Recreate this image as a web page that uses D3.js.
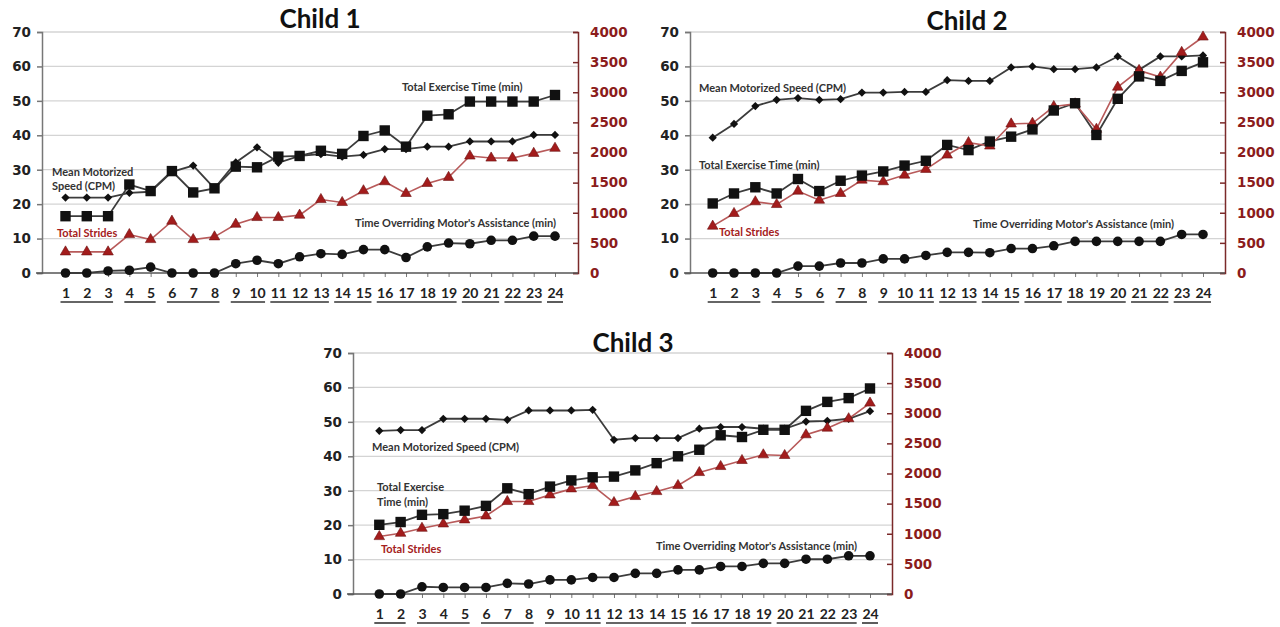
<!DOCTYPE html>
<html>
<head>
<meta charset="utf-8">
<script src="https://cdn.jsdelivr.net/npm/d3@7"></script>
<style>
  body { margin: 0; background: #fff; }
  svg { display: block; }
  .tick-l { font: bold 13.5px "DejaVu Sans", sans-serif; fill: #222; }
  .tick-r { font: bold 13.5px "DejaVu Sans", sans-serif; fill: #8b1c1c; }
  .xlab { font: bold 14px Lato, sans-serif; fill: #222; }
  .title { font: bold 26px Lato, sans-serif; fill: #111; }
  .note { font: bold 11px Lato, sans-serif; fill: #333; }
  .note-red { font: bold 11px Lato, sans-serif; fill: #a52020; }
</style>
</head>
<body>
<div id="chart"></div>
<script>
/* Three children: speed, exercise time, strides and override time per session */

const sessions = [1,2,3,4,5,6,7,8,9,10,11,12,13,14,15,16,17,18,19,20,21,22,23,24];
const leftTicks = [0,10,20,30,40,50,60,70];
const rightTicks = [0,500,1000,1500,2000,2500,3000,3500,4000];

// Child 1
const speed1 = [21.9,21.9,21.9,23.3,23.6,29.4,31.2,24.6,32.1,36.5,32,34,34.5,33.8,34.3,36,36,36.7,36.7,38.2,38.2,38.2,40.1,40.1];
const exercise1 = [16.5,16.5,16.5,25.7,23.8,29.6,23.4,24.6,30.9,30.7,33.8,34,35.5,34.6,39.8,41.4,36.7,45.7,46.1,49.8,49.8,49.8,49.8,51.7];
const strides1 = [350,350,350,638,555,860,555,600,810,921,921,960,1220,1170,1365,1515,1320,1487,1587,1942,1908,1908,1986,2070];
const override1 = [0,0,0.6,0.8,1.7,0,0,0,2.7,3.7,2.7,4.7,5.6,5.4,6.8,6.8,4.5,7.6,8.7,8.5,9.5,9.5,10.7,10.7];
const weeks1 = [3,2,3,2,3,2,4,2,2,1];

// Child 2
const speed2 = [39.3,43.3,48.5,50.3,50.8,50.3,50.5,52.4,52.4,52.6,52.6,56,55.8,55.8,59.7,60,59.2,59.2,59.7,62.9,59,62.9,62.9,63.2];
const exercise2 = [20.2,23.1,24.9,23.1,27.3,23.8,26.8,28.3,29.5,31.2,32.6,37.2,35.7,38.2,39.6,41.7,47.2,49.3,40.1,50.6,57.1,55.8,58.7,61.2];
const strides2 = [777,988,1182,1137,1359,1209,1320,1542,1515,1625,1720,1958,2164,2108,2474,2485,2763,2807,2386,3085,3362,3251,3662,3917];
const override2 = [0,0,0,0,2,2,2.9,2.9,4.1,4.1,5.1,6,6,5.9,7.1,7.1,7.9,9.2,9.2,9.2,9.2,9.2,11.2,11.2];
const weeks2 = [3,3,2,3,2,2,2,3,2,2];

// Child 3
const speed3 = [47.4,47.6,47.6,50.9,50.9,50.9,50.6,53.3,53.3,53.3,53.5,44.8,45.3,45.3,45.3,48,48.5,48.5,48,48,50.1,50.3,50.9,53.1];
const exercise3 = [20.1,20.9,23,23.2,24.2,25.6,30.7,29,31.2,33,33.9,34.1,35.9,38,40,41.9,46.1,45.6,47.7,47.7,53.2,55.8,56.9,59.7];
const strides3 = [953,1008,1091,1163,1230,1296,1535,1535,1645,1745,1800,1518,1618,1700,1800,2016,2116,2216,2310,2299,2643,2753,2909,3169];
const override3 = [0,0,2.1,1.9,1.9,1.9,3.1,2.9,4.1,4.1,4.8,4.8,6,6,7,7,8,8,8.9,8.9,10.1,10.1,11.1,11.1];
const weeks3 = [2,3,3,3,4,4,4,1];

const width = 1280, height = 627;

const svg = d3.select("#chart")
    .append("svg")
    .attr("width", width)
    .attr("height", height)
    .attr("viewBox", [0, 0, width, height]);

// layout of each panel
const panels = [
  { title: "Child 1", speed: speed1, exercise: exercise1, strides: strides1, override: override1, weeks: weeks1,
    left: 42, right: 578, top: 32, bottom: 273, x1: 65.5, x24: 555, titleX: 320, titleY: 28,
    notes: [
      { t: "Mean Motorized", x: 52, y: 176 },
      { t: "Speed (CPM)", x: 52, y: 190 },
      { t: "Total Strides", x: 57, y: 237, red: true },
      { t: "Total Exercise Time (min)", x: 402, y: 91 },
      { t: "Time Overriding Motor's Assistance (min)", x: 355, y: 227 }
    ] },
  { title: "Child 2", speed: speed2, exercise: exercise2, strides: strides2, override: override2, weeks: weeks2,
    left: 690, right: 1225, top: 32, bottom: 273, x1: 712.7, x24: 1203, titleX: 967, titleY: 30,
    notes: [
      { t: "Mean Motorized Speed (CPM)", x: 699, y: 92 },
      { t: "Total Exercise Time (min)", x: 699, y: 169 },
      { t: "Total Strides", x: 719, y: 236, red: true },
      { t: "Time Overriding Motor's Assistance (min)", x: 973, y: 228 }
    ] },
  { title: "Child 3", speed: speed3, exercise: exercise3, strides: strides3, override: override3, weeks: weeks3,
    left: 353, right: 892, top: 353, bottom: 594, x1: 379.3, x24: 870, titleX: 633, titleY: 352,
    notes: [
      { t: "Mean Motorized Speed (CPM)", x: 372, y: 451 },
      { t: "Total Exercise", x: 377, y: 491 },
      { t: "Time (min)", x: 377, y: 506 },
      { t: "Total Strides", x: 381, y: 553, red: true },
      { t: "Time Overriding Motor's Assistance (min)", x: 656, y: 550 }
    ] }
];

for (const p of panels) {
  const g = svg.append("g");

  let x = d3.scalePoint()
      .domain(sessions)
      .range([p.x1, p.x24]);

  let y = d3.scaleLinear()
      .domain([0, 70])
      .range([p.bottom, p.top]);

  let y2 = d3.scaleLinear()
      .domain([0, 4000])
      .range([p.bottom, p.top]);

  // gridlines
  g.append("g")
    .selectAll("line")
    .data(leftTicks.slice(1))
    .join("line")
      .attr("x1", p.left)
      .attr("x2", p.right)
      .attr("y1", d => y(d))
      .attr("y2", d => y(d))
      .attr("stroke", "#d4d4d4")
      .attr("stroke-width", 1.3);

  // left axis
  const la = g.append("g")
      .attr("transform", `translate(${p.left},0)`)
      .call(d3.axisLeft(y).tickValues(leftTicks).tickSize(5).tickPadding(6));
  la.select(".domain").attr("stroke", "#777").attr("stroke-width", 1.5);
  la.selectAll(".tick line").attr("stroke", "#777").attr("stroke-width", 1.5);
  la.selectAll(".tick text").attr("class", "tick-l").attr("font-size", null).attr("font-family", null);

  // right axis
  const ra = g.append("g")
      .attr("transform", `translate(${p.right},0)`)
      .call(d3.axisRight(y2).tickValues(rightTicks).tickFormat(d3.format("d"))
        .tickSizeInner(-5).tickSizeOuter(-5).tickPadding(12));
  ra.select(".domain").attr("stroke", "#7b2a2a").attr("stroke-width", 1.5);
  ra.selectAll(".tick line").attr("stroke", "#7b2a2a").attr("stroke-width", 1.5);
  ra.selectAll(".tick text").attr("class", "tick-r").attr("font-size", null).attr("font-family", null);

  // x axis along zero
  const xa = g.append("g")
      .attr("transform", `translate(0,${p.bottom})`)
      .call(d3.axisBottom(x).tickSize(4).tickPadding(11));
  xa.select(".domain").remove();
  xa.append("line")
      .attr("x1", p.left - 6)
      .attr("x2", p.right)
      .attr("stroke", "#555")
      .attr("stroke-width", 1.5);
  xa.selectAll(".tick line").attr("stroke", "#777");
  xa.selectAll(".tick text").attr("class", "xlab").attr("font-size", null).attr("font-family", null);

  // underline groups of sessions
  let start = 0;
  for (const n of p.weeks) {
    const a = sessions[start], b = sessions[start + n - 1];
    g.append("line")
      .attr("x1", x(a) - (a >= 10 ? 8 : 5))
      .attr("x2", x(b) + (b >= 10 ? 8 : 5))
      .attr("y1", p.bottom + 29)
      .attr("y2", p.bottom + 29)
      .attr("stroke", "#333")
      .attr("stroke-width", 1.6);
    start += n;
  }

  // lines
  let line = d3.line()
      .x((d, i) => x(sessions[i]))
      .y(d => y(d));
  let line2 = d3.line()
      .x((d, i) => x(sessions[i]))
      .y(d => y2(d));

  for (const s of [p.override, p.speed, p.exercise]) {
    g.append("path")
      .datum(s)
      .attr("d", line)
      .attr("fill", "none")
      .attr("stroke", "#3c3c3c")
      .attr("stroke-width", 1.8);
  }
  g.append("path")
    .datum(p.strides)
    .attr("d", line2)
    .attr("fill", "none")
    .attr("stroke", "#b85a5a")
    .attr("stroke-width", 1.6);

  // markers
  g.append("g").selectAll("circle")
    .data(p.override)
    .join("circle")
      .attr("cx", (d, i) => x(sessions[i]))
      .attr("cy", d => y(d))
      .attr("r", 4.8)
      .attr("fill", "#111");

  g.append("g").selectAll("path")
    .data(p.speed)
    .join("path")
      .attr("d", d3.symbol(d3.symbolSquare, 34))
      .attr("transform", (d, i) => `translate(${x(sessions[i])},${y(d)}) rotate(45)`)
      .attr("fill", "#111");

  g.append("g").selectAll("path")
    .data(p.strides)
    .join("path")
      .attr("d", d3.symbol(d3.symbolTriangle, 48))
      .attr("transform", (d, i) => `translate(${x(sessions[i])},${y2(d)})`)
      .attr("fill", "#a31c1c")
      .attr("stroke", "#6b1010")
      .attr("stroke-width", 0.6);

  g.append("g").selectAll("rect")
    .data(p.exercise)
    .join("rect")
      .attr("x", (d, i) => x(sessions[i]) - 5.2)
      .attr("y", d => y(d) - 5.2)
      .attr("width", 10.4)
      .attr("height", 10.4)
      .attr("fill", "#111");

  // title
  g.append("text")
    .attr("class", "title")
    .attr("x", p.titleX)
    .attr("y", p.titleY)
    .attr("text-anchor", "middle")
    .text(p.title);

  // series notes
  for (const n of p.notes) {
    g.append("text")
      .attr("class", n.red ? "note-red" : "note")
      .attr("x", n.x)
      .attr("y", n.y)
      .text(n.t);
  }
}
</script>
</body>
</html>
